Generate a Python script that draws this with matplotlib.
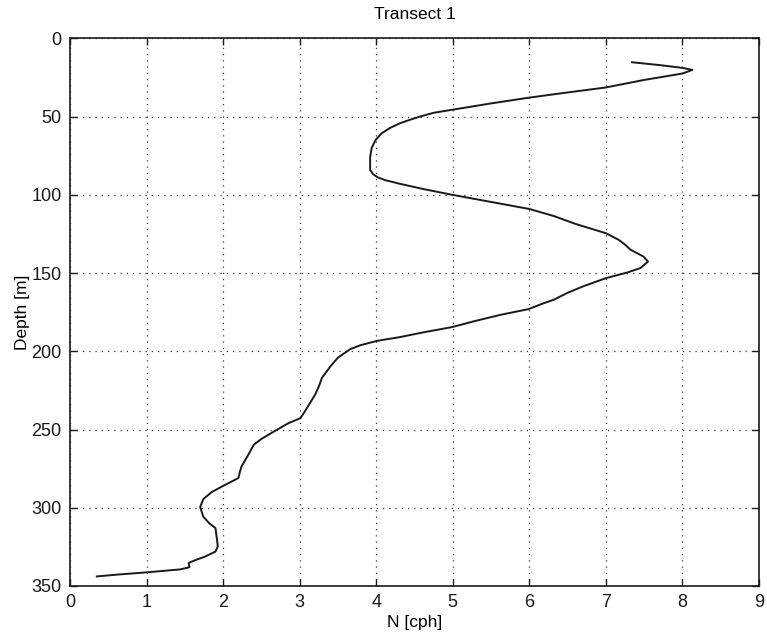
import matplotlib
matplotlib.use("Agg")
import matplotlib.pyplot as plt

plt.rcParams['font.family'] = ['Liberation Sans', 'DejaVu Sans']

# Buoyancy frequency profile, Transect 1
n_cph = [7.34, 7.7, 8.0, 8.13, 8.0, 7.5, 7.0, 6.5, 6.0, 5.5, 5.0, 4.75, 4.58,
         4.45, 4.31, 4.18, 4.07, 3.99, 3.94, 3.92, 3.92, 3.96, 4.02, 4.12, 4.3,
         4.62, 5.0, 5.5, 6.0, 6.32, 6.6, 7.0, 7.17, 7.25, 7.32, 7.49, 7.55,
         7.45, 7.28, 7.0, 6.7, 6.49, 6.32, 6.19, 5.99, 5.62, 5.3, 4.99, 4.6,
         4.31, 4.01, 3.8, 3.66, 3.5, 3.40, 3.29, 3.25, 3.20, 3.08, 3.01, 2.85,
         2.70, 2.5, 2.40, 2.33, 2.24, 2.22, 2.20, 2.0, 1.85, 1.74, 1.70, 1.74,
         1.82, 1.90, 1.92, 1.93, 1.90, 1.75, 1.66, 1.55, 1.56, 1.44, 1.0, 0.6,
         0.35]
depth_m = [15.2, 17.0, 18.8, 20.1, 22.4, 26.5, 31.3, 34.5, 37.8, 41.5, 45.5,
           47.5, 49.8, 51.8, 54.2, 57.2, 60.6, 65.0, 70.0, 76.0, 84.0, 86.8,
           88.8, 90.6, 92.8, 96.3, 100.0, 104.5, 109.0, 113.5, 118.5, 124.5,
           128.8, 131.8, 135.0, 139.4, 142.6, 146.8, 149.6, 153.2, 158.5,
           162.8, 167.0, 169.2, 173.0, 176.7, 180.5, 184.5, 188.0, 190.9,
           193.3, 196.0, 198.6, 204.0, 209.7, 217.0, 222.5, 227.8, 237.4, 242.7,
           246.0, 250.2, 256.0, 259.7, 266.0, 273.6, 276.8, 281.0, 286.0, 290.0,
           294.5, 299.5, 305.6, 310.0, 313.0, 320.4, 324.7, 328.0, 331.5, 333.0,
           335.3, 338.0, 339.4, 341.3, 342.8, 343.9]

x_ticks = list(range(0, 10))
y_ticks = list(range(0, 351, 50))

fig = plt.figure(figsize=(7.67, 6.35), dpi=100)
ax = fig.add_axes([0.0913, 0.0772, 0.8983, 0.8622])

ax.plot(n_cph, depth_m, color='#1a1a1a', linewidth=1.4,
        solid_joinstyle='round')

ax.set_xlim(0, 9)
ax.set_ylim(350, 0)
ax.set_xticks(x_ticks)
ax.set_yticks(y_ticks)

ax.grid(True, linestyle=(0, (1, 4)), color='#333333', linewidth=0.9)
ax.tick_params(direction='in', length=5, width=1.0, top=True, right=True,
               labelsize=13, pad=6, colors='#1a1a1a')
for s in ax.spines.values():
    s.set_linewidth(1.2)
    s.set_color('#1a1a1a')

ax.set_xlabel('N [cph]', fontsize=12.5, labelpad=3)
ax.set_ylabel('Depth [m]', fontsize=12.5, labelpad=1)
ax.set_title('Transect 1', fontsize=12.5, pad=14)

fig.savefig('out.png', dpi=100)
